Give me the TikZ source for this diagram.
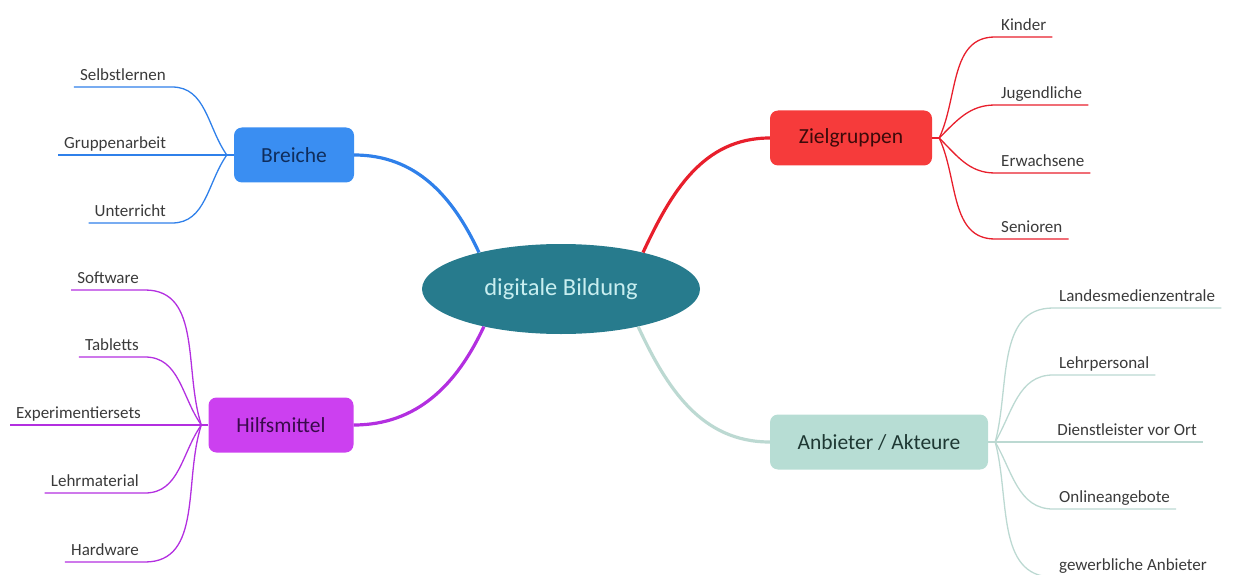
\documentclass[tikz,border=0pt]{standalone}
\usepackage{fontspec}
\setmainfont{Carlito}
\usepackage{tikz}
\usetikzlibrary{shapes.geometric}

\definecolor{hubteal}{HTML}{277B8D}
\definecolor{hubtext}{HTML}{C8EEF0}
\definecolor{breblue}{HTML}{3A8EF2}
\definecolor{brelink}{HTML}{2F80EA}
\definecolor{brenavy}{HTML}{0F2D5C}
\definecolor{zielred}{HTML}{F63B3B}
\definecolor{ziellink}{HTML}{E81F2C}
\definecolor{zieldark}{HTML}{3C0A0A}
\definecolor{hilpurple}{HTML}{CC40F0}
\definecolor{hillink}{HTML}{B32FE0}
\definecolor{hildark}{HTML}{3A0A4C}
\definecolor{anbmint}{HTML}{B7DDD4}
\definecolor{anblink}{HTML}{BCD9D2}
\definecolor{anbdark}{HTML}{1E3833}
\definecolor{leaftext}{HTML}{3A3A3A}

\begin{document}
\begin{tikzpicture}[x=1pt, y=1pt,
    hub/.style={ellipse, fill=hubteal, text=hubtext, minimum width=278pt, minimum height=90pt, inner sep=0pt, font=\fontsize{24.5}{28}\selectfont},
    branch/.style={rounded corners=8pt, minimum height=55pt, inner sep=0pt, font=\fontsize{21.5}{24}\selectfont},
    leaf/.style={inner xsep=6pt, inner ysep=2.5pt, text depth=4pt, text=leaftext, font=\fontsize{17}{19}\selectfont},
    link/.style={line width=3.2pt},
    twig/.style={line width=1.3pt}]
        \useasboundingbox (0,0) rectangle (1233,574);

        \node[hub] (hub) at (561,285) {digitale Bildung};
        \node[branch, fill=breblue, text=brenavy, minimum width=120pt] (bre) at (294,419) {Breiche};
        \node[branch, fill=hilpurple, text=hildark, minimum width=145pt] (hil) at (281,149) {Hilfsmittel};
        \node[branch, fill=zielred, text=zieldark, minimum width=162pt] (ziel) at (851,436) {Zielgruppen};
        \node[branch, fill=anbmint, text=anbdark, minimum width=218pt] (anb) at (879,132) {Anbieter / Akteure};

        \draw[link, brelink] (bre.east) to[out=0, in=115] (hub.156);
        \draw[link, hillink] (hil.east) to[out=0, in=245] (hub.206);
        \draw[link, ziellink] (ziel.west) to[out=180, in=65] (hub.24);
        \draw[link, anblink] (anb.west) to[out=180, in=295] (hub.334);

        % Breiche
        \coordinate (jb) at ([xshift=-7pt]bre.west);
        \node[leaf, anchor=south east] (selbst) at (172,487) {Selbstlernen};
        \node[leaf, anchor=south west] (gruppe) at (58,419) {Gruppenarbeit};
        \node[leaf, anchor=south east] (unter) at (172,351) {Unterricht};
        \draw[twig, brelink] (bre.west) -- (jb) -- (gruppe.south west);
        \draw[twig, brelink] (jb) to[out=125, in=0] (selbst.south east) -- (selbst.south west);
        \draw[twig, brelink] (jb) to[out=235, in=0] (unter.south east) -- (unter.south west);

        % Hilfsmittel
        \coordinate (jh) at ([xshift=-7pt]hil.west);
        \node[leaf, anchor=south east] (soft) at (145,284) {Software};
        \node[leaf, anchor=south east] (tab) at (145,217) {Tabletts};
        \node[leaf, anchor=south west] (exp) at (10,149) {Experimentiersets};
        \node[leaf, anchor=south east] (lehrm) at (145,81) {Lehrmaterial};
        \node[leaf, anchor=south east] (hard) at (145,12) {Hardware};
        \draw[twig, hillink] (hil.west) -- (jh) -- (exp.south west);
        \draw[twig, hillink] (jh) to[out=108, in=0] (soft.south east) -- (soft.south west);
        \draw[twig, hillink] (jh) to[out=125, in=0] (tab.south east) -- (tab.south west);
        \draw[twig, hillink] (jh) to[out=235, in=0] (lehrm.south east) -- (lehrm.south west);
        \draw[twig, hillink] (jh) to[out=252, in=0] (hard.south east) -- (hard.south west);

        % Zielgruppen
        \coordinate (jz) at ([xshift=7pt]ziel.east);
        \node[leaf, anchor=south west] (kind) at (995,537) {Kinder};
        \node[leaf, anchor=south west] (jug) at (995,469) {Jugendliche};
        \node[leaf, anchor=south west] (erw) at (995,401) {Erwachsene};
        \node[leaf, anchor=south west] (sen) at (995,335) {Senioren};
        \draw[twig, ziellink] (ziel.east) -- (jz);
        \draw[twig, ziellink] (jz) to[out=65, in=180] (kind.south west) -- (kind.south east);
        \draw[twig, ziellink] (jz) to[out=45, in=180] (jug.south west) -- (jug.south east);
        \draw[twig, ziellink] (jz) to[out=-45, in=180] (erw.south west) -- (erw.south east);
        \draw[twig, ziellink] (jz) to[out=-65, in=180] (sen.south west) -- (sen.south east);

        % Anbieter / Akteure
        \coordinate (ja) at ([xshift=7pt]anb.east);
        \node[leaf, anchor=south west] (lmz) at (1053,266) {Landesmedienzentrale};
        \node[leaf, anchor=south west] (lehrp) at (1053,199) {Lehrpersonal};
        \node[leaf, anchor=south east] (dienst) at (1203,132) {Dienstleister vor Ort};
        \node[leaf, anchor=south west] (online) at (1053,65) {Onlineangebote};
        \node[leaf, anchor=south west] (gewerb) at (1053,-3) {gewerbliche Anbieter};
        \draw[twig, anblink] (anb.east) -- (ja) -- (dienst.south east);
        \draw[twig, anblink] (ja) to[out=75, in=180] (lmz.south west) -- (lmz.south east);
        \draw[twig, anblink] (ja) to[out=60, in=180] (lehrp.south west) -- (lehrp.south east);
        \draw[twig, anblink] (ja) to[out=-60, in=180] (online.south west) -- (online.south east);
        \draw[twig, anblink] (ja) to[out=-75, in=180] (gewerb.south west) -- (gewerb.south east);
    \end{tikzpicture}
\end{document}
